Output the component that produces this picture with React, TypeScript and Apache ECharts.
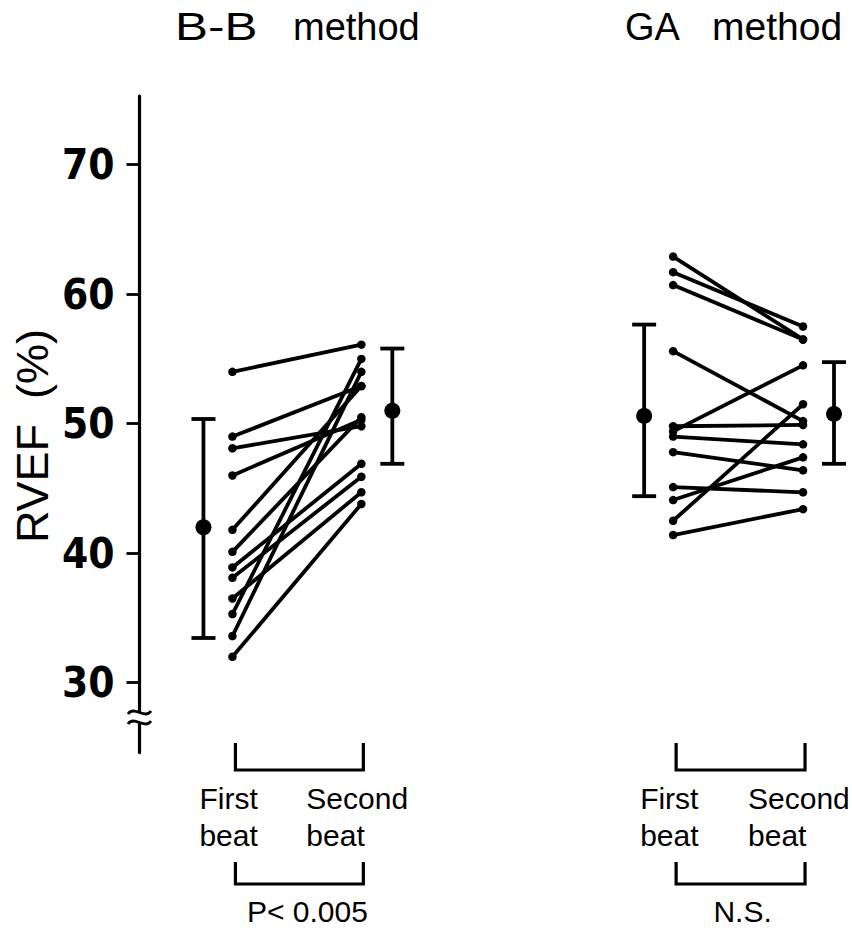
import React, { useEffect, useRef } from "react";
import * as echarts from "echarts";

// ---- data ----
const yTicks = [30, 40, 50, 60, 70];
const bbFirst = [54.0, 49.0, 48.1, 46.0, 41.8, 40.1, 38.9, 38.1, 36.5, 35.3, 33.6, 32.0];
const bbSecond = [56.1, 52.9, 49.8, 50.3, 52.9, 50.5, 46.9, 45.9, 44.7, 55.0, 54.0, 43.8];
const gaFirst = [62.9, 61.7, 60.7, 55.6, 49.8, 49.4, 49.0, 47.8, 45.1, 44.1, 42.5, 41.4];
const gaSecond = [56.5, 57.5, 56.5, 50.2, 49.9, 54.5, 48.4, 46.4, 44.7, 47.4, 51.5, 43.4];
const bbMean = [42.0, 51.0];
const bbLow = [33.45, 46.9];
const bbHigh = [50.36, 55.8];
const gaMean = [50.6, 50.75];
const gaLow = [44.4, 46.9];
const gaHigh = [57.65, 54.75];
const beatLabels = ["First\nbeat", "Second\nbeat"];
const pLabels = ["P< 0.005", "N.S."];
const yName = "RVEF  (%)";

// ---- layout (x positions in axis units) ----
const XPOS = [
  { meanL: 64, first: 93, second: 222, meanR: 253 },
  { meanL: 505, first: 534, second: 664, meanR: 695 },
];

const FONT = "'Liberation Sans', Arial, sans-serif";
const NARROW = "'Liberation Sans Narrow', 'Arial Narrow', 'DejaVu Sans Condensed', 'Liberation Sans', sans-serif";

export default function App() {
  const ref = useRef<HTMLDivElement>(null);
  useEffect(() => {
    if (!ref.current) return;
    const chart = echarts.init(ref.current, null, { renderer: "svg" });
    const groups = [
      { first: bbFirst, second: bbSecond, mean: bbMean, low: bbLow, high: bbHigh },
      { first: gaFirst, second: gaSecond, mean: gaMean, low: gaLow, high: gaHigh },
    ];
    const series: any[] = [];
    groups.forEach((g, gi) => {
      const xp = XPOS[gi];
      g.first.forEach((v, i) => {
        series.push({
          type: "line",
          data: [
            [xp.first, v],
            [xp.second, g.second[i]],
          ],
          symbol: "circle",
          symbolSize: 8.5,
          showSymbol: true,
          lineStyle: { color: "#000", width: 3.8, opacity: 1 },
          itemStyle: { color: "#000", opacity: 1 },
          silent: true,
          z: 3,
        });
      });
      series.push({
        type: "custom",
        data: [
          [xp.meanL, g.low[0], g.high[0]],
          [xp.meanR, g.low[1], g.high[1]],
        ],
        renderItem: (params: any, api: any) => {
          const x = api.value(0);
          const lo = api.coord([x, api.value(1)]);
          const hi = api.coord([x, api.value(2)]);
          const cap = 12;
          const style = { stroke: "#000", lineWidth: 3.8, fill: "none" };
          return {
            type: "group",
            children: [
              { type: "line", shape: { x1: lo[0], y1: lo[1], x2: hi[0], y2: hi[1] }, style },
              { type: "line", shape: { x1: lo[0] - cap, y1: lo[1], x2: lo[0] + cap, y2: lo[1] }, style },
              { type: "line", shape: { x1: hi[0] - cap, y1: hi[1], x2: hi[0] + cap, y2: hi[1] }, style },
            ],
          };
        },
        silent: true,
        z: 2,
      });
      series.push({
        type: "scatter",
        data: [
          [xp.meanL, g.mean[0]],
          [xp.meanR, g.mean[1]],
        ],
        symbol: "circle",
        symbolSize: 16,
        itemStyle: { color: "#000", opacity: 1 },
        silent: true,
        z: 4,
      });
    });

    chart.setOption({
      animation: false,
      backgroundColor: "#fff",
      grid: { left: 139.5, top: 96, width: 713, height: 656.6 },
      xAxis: { type: "value", min: 0, max: 713, show: false },
      yAxis: {
        type: "value",
        min: 24.6,
        max: 75.3,
        axisLine: { show: true, lineStyle: { color: "#000", width: 3.2 } },
        axisTick: { show: true, customValues: yTicks, length: 13, lineStyle: { color: "#000", width: 2.8 } },
        axisLabel: {
          customValues: yTicks,
          margin: 25,
          color: "#000",
          fontSize: 42,
          fontWeight: "bold",
          fontFamily: NARROW,
        },
        splitLine: { show: false },
      },
      series,
    });

    const graphic: any[] = [];
    const topY = 26.5;
    // titles
    graphic.push({ type: "text", x: 175, y: topY, scaleX: 1.3, style: { text: "B-B", font: `38px ${FONT}`, fill: "#000", verticalAlign: "middle", align: "left" } });
    graphic.push({ type: "text", x: 293, y: topY, style: { text: "method", font: `38px ${FONT}`, fill: "#000", verticalAlign: "middle", align: "left" } });
    graphic.push({ type: "text", x: 625, y: topY, style: { text: "GA", font: `38px ${FONT}`, fill: "#000", verticalAlign: "middle", align: "left" } });
    graphic.push({ type: "text", x: 712, y: topY, style: { text: "method", font: `39px ${FONT}`, fill: "#000", verticalAlign: "middle", align: "left" } });
    // y axis name
    graphic.push({
      type: "text",
      x: 32,
      y: 436,
      rotation: Math.PI / 2,
      style: { text: yName, font: `45px ${FONT}`, fill: "#000", align: "center", verticalAlign: "middle" },
    });
    // axis break
    graphic.push({ type: "rect", shape: { x: 134, y: 713, width: 12, height: 9 }, style: { fill: "#fff" }, z: 100 });
    [711, 721].forEach((yy) => {
      graphic.push({
        type: "bezierCurve",
        shape: { x1: 128, y1: yy + 3, cpx1: 134, cpy1: yy - 6, cpx2: 145, cpy2: yy + 9, x2: 151, y2: yy },
        style: { stroke: "#000", lineWidth: 2.8, fill: "none" },
        z: 101,
      });
    });
    // brackets and labels
    XPOS.forEach((xp, gi) => {
      const l = chart.convertToPixel({ gridIndex: 0 }, [xp.first, 50])[0] + 3;
      const r = chart.convertToPixel({ gridIndex: 0 }, [xp.second, 50])[0] + 2;
      const st = { stroke: "#000", lineWidth: 3.2, fill: "none" };
      graphic.push({ type: "polyline", shape: { points: [[l, 743], [l, 770], [r, 770], [r, 743]] }, style: st });
      graphic.push({ type: "polyline", shape: { points: [[l, 862], [l, 884], [r, 884], [r, 862]] }, style: st });
      const lines0 = beatLabels[0].split("\n");
      const lines1 = beatLabels[1].split("\n");
      [lines0, lines1].forEach((ln, k) => {
        const x0 = k === 0 ? l - 36 : r - 57;
        ln.forEach((t, j) => {
          graphic.push({ type: "text", x: x0, y: 798 + j * 37, style: { text: t, font: `30px ${FONT}`, fill: "#000", align: "left", verticalAlign: "middle" } });
        });
      });
      graphic.push({
        type: "text",
        x: (l + r) / 2 + (gi === 0 ? 8 : 2),
        y: 911,
        style: { text: pLabels[gi], font: `30px ${FONT}`, fill: "#000", align: "center", verticalAlign: "middle" },
      });
    });
    chart.setOption({ graphic });
    return () => chart.dispose();
  }, []);
  return <div ref={ref} style={{ position: "fixed", left: 0, top: 0, width: 852, height: 928 }} />;
}
